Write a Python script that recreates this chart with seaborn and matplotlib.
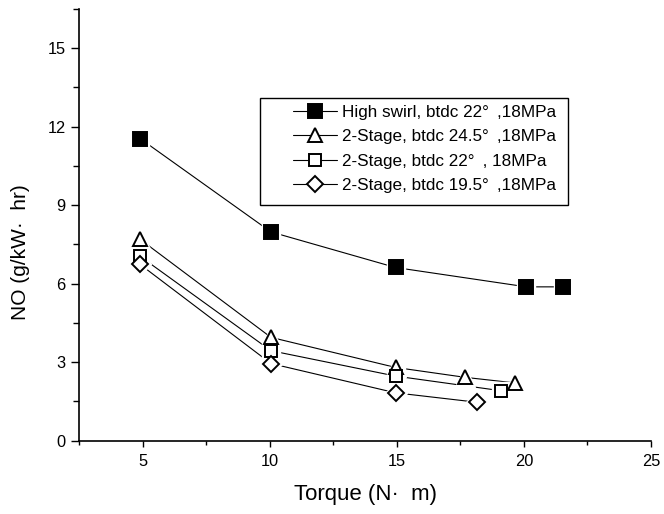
import matplotlib
matplotlib.use("Agg")
import matplotlib.pyplot as plt
import seaborn as sns
import pandas as pd
from matplotlib.ticker import MultipleLocator
from matplotlib.lines import Line2D
from matplotlib.patches import Rectangle

sns.set_theme(style="white")
plt.rcParams['font.family'] = ['Liberation Sans', 'DejaVu Sans']

labels = [
    "High swirl, btdc 22°\u2009 ,18MPa",
    "2-Stage, btdc 24.5°\u2009 ,18MPa",
    "2-Stage, btdc 22°\u2009 , 18MPa",
    "2-Stage, btdc 19.5°\u2009 ,18MPa",
]
torque_hs = [4.9, 10.05, 14.95, 20.1, 21.55]
no_hs = [11.55, 7.98, 6.62, 5.88, 5.88]
torque_245 = [4.9, 10.05, 14.95, 17.7, 19.64]
no_245 = [7.70, 3.95, 2.80, 2.42, 2.21]
torque_22 = [4.9, 10.05, 14.95, 19.1]
no_22 = [7.05, 3.44, 2.47, 1.91]
torque_195 = [4.9, 10.05, 14.95, 18.15]
no_195 = [6.74, 2.95, 1.83, 1.47]

series = [(torque_hs, no_hs), (torque_245, no_245), (torque_22, no_22), (torque_195, no_195)]
markers = ['s', '^', 's', 'D']
faces = ['black', 'white', 'white', 'white']
msizes = [9.5, 10.5, 9.3, 8.2]

rows = []
for lab, (xs, ys) in zip(labels, series):
    for x, y in zip(xs, ys):
        rows.append({"series": lab, "Torque": x, "NO": y})
df = pd.DataFrame(rows)

W, H = 664, 514
fig = plt.figure(figsize=(W/100, H/100), dpi=100)
ax = fig.add_axes([79/W, 1-440.7/H, (651-79)/W, (440.7-9)/H])

sns.lineplot(data=df, x="Torque", y="NO", hue="series", hue_order=labels,
             palette=['black']*4, linewidth=0.8, legend=False, ax=ax, sort=False)
handles = []
for lab, (xs, ys), m, fc, ms in zip(labels, series, markers, faces, msizes):
    ax.plot(xs, ys, linestyle='none', marker=m, markersize=ms+3.5,
            markerfacecolor='white', markeredgecolor='white', zorder=3)
    ax.plot(xs, ys, linestyle='none', marker=m, markersize=ms,
            markerfacecolor=fc, markeredgecolor='black', markeredgewidth=1.4, zorder=4)
    handles.append(Line2D([], [], color='black', linewidth=0.8, marker=m,
                          markersize=ms, markerfacecolor=fc, markeredgecolor='black',
                          markeredgewidth=1.4))

ax.set_xlim(2.5, 25)
ax.set_ylim(0, 16.5)
ax.xaxis.set_major_locator(MultipleLocator(5))
ax.xaxis.set_minor_locator(MultipleLocator(2.5))
ax.yaxis.set_major_locator(MultipleLocator(3))
ax.yaxis.set_minor_locator(MultipleLocator(1.5))
ax.tick_params(which='both', direction='out', width=1, colors='black',
               bottom=True, left=True)
ax.tick_params(axis='x', which='major', length=4.5, labelsize=11.8, pad=4.8)
ax.tick_params(axis='x', which='minor', length=3)
ax.tick_params(axis='y', which='major', length=6, labelsize=11.8, pad=3.5)
ax.tick_params(axis='y', which='minor', length=4)
for s in ['top', 'right']:
    ax.spines[s].set_visible(False)
for s in ['left', 'bottom']:
    ax.spines[s].set_color('black')
    ax.spines[s].set_linewidth(1.2)

ax.set_xlabel("Torque (N\u00b7  m)", fontsize=16, color='black', labelpad=11)
ax.set_ylabel("NO (g/kW\u00b7  hr)", fontsize=15, color='black')
ax.yaxis.set_label_coords(-0.086, 0.437)

leg = fig.legend(handles, labels, loc='center left',
                 bbox_to_anchor=(293/W, 1-149/H), bbox_transform=fig.transFigure,
                 fontsize=12.3, frameon=False,
                 handlelength=2.6, handletextpad=0.25, labelspacing=0.53,
                 borderpad=0, borderaxespad=0)
for t in leg.get_texts():
    t.set_color('black')

fig.add_artist(Rectangle((260/W, 1-205/H), (568-260)/W, (205-98)/H,
                         transform=fig.transFigure, fill=False,
                         edgecolor='black', linewidth=1.0))

fig.savefig("out.png", dpi=100)
